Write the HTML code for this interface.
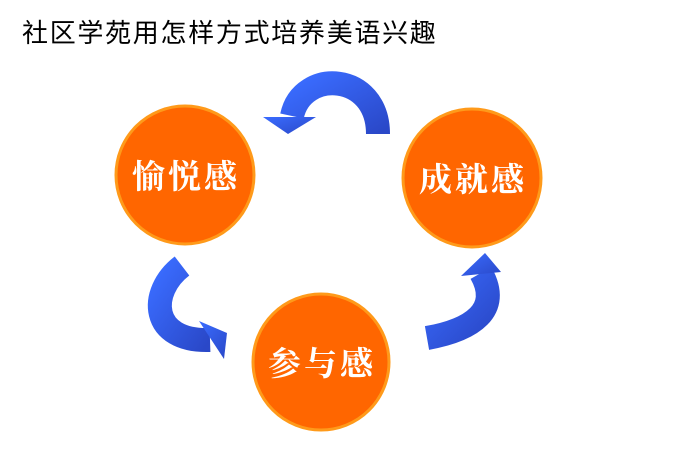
<!DOCTYPE html>
<html><head><meta charset="utf-8"><style>
html,body{margin:0;padding:0;background:#fff;width:680px;height:458px;overflow:hidden}
svg{display:block}
</style></head><body>
<svg width="680" height="458" viewBox="0 0 680 458" xmlns="http://www.w3.org/2000/svg">
<defs>
<linearGradient id="bl" x1="0" y1="0" x2="1" y2="1">
<stop offset="0" stop-color="#3a6cff"/><stop offset="1" stop-color="#2a48c8"/>
</linearGradient>
</defs>
<text x="22" y="42" font-family="Liberation Sans, Noto Sans CJK SC, sans-serif" font-size="26" letter-spacing="1.7" fill="#000">社区学苑用怎样方式培养美语兴趣</text>

<g fill="none" stroke="url(#bl)" stroke-width="24">
<path d="M378 134 C378 72, 302 68, 292 116"/>
<path d="M182 266 C148 292, 150 342, 210 340"/>
<path d="M427 338 C472 330, 502 310, 481 273"/>
</g>
<g fill="url(#bl)">
<polygon points="263,117 316,117 288,134"/>
<polygon points="199,321 227,333 224,359"/>
<polygon points="485,253 461,276 501,272"/>
</g>

<g fill="#ff6600" stroke="#ff9a1a" stroke-width="3">
<circle cx="185" cy="175" r="69"/>
<circle cx="472" cy="178" r="69"/>
<circle cx="321" cy="362" r="68"/>
</g>
<g font-family="Liberation Sans, Noto Serif CJK SC, serif" font-weight="bold" font-size="33" fill="#fff" text-anchor="middle" letter-spacing="3">
<text x="186" y="188">愉悦感</text>
<text x="473" y="191">成就感</text>
<text x="322" y="375">参与感</text>
</g>
</svg>
</body></html>
